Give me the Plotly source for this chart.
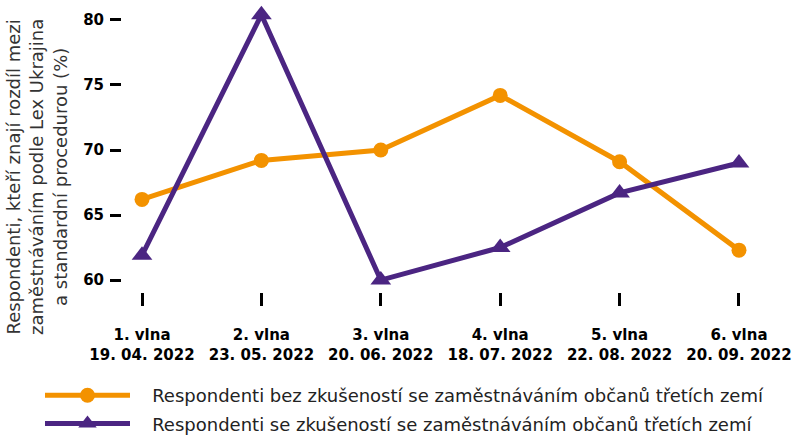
import plotly.graph_objects as go

waves = ["1. vlna", "2. vlna", "3. vlna", "4. vlna", "5. vlna", "6. vlna"]
dates = ["19. 04. 2022", "23. 05. 2022", "20. 06. 2022", "18. 07. 2022", "22. 08. 2022", "20. 09. 2022"]
without_exp = [66.2, 69.2, 70.0, 74.2, 69.1, 62.3]
with_exp = [61.9, 80.4, 60.0, 62.5, 66.7, 69.0]
name_without = "Respondenti bez zkušeností se zaměstnáváním občanů třetích zemí"
name_with = "Respondenti se zkušeností se zaměstnáváním občanů třetích zemí"
y_ticks = [60, 65, 70, 75, 80]

ORANGE = "#F39200"
PURPLE = "#4B2582"
FONT = "DejaVu Sans"
PAD = "\u00a0" * 3

x = list(range(len(waves)))
ticktext = [f"<b>{w}<br>{d}</b>" for w, d in zip(waves, dates)]

fig = go.Figure()
fig.add_trace(go.Scatter(
    x=x, y=without_exp, name=PAD + name_without, mode="lines+markers",
    legendgroup="a",
    line=dict(color=ORANGE, width=5),
    marker=dict(symbol="circle", size=15, color=ORANGE),
))
fig.add_trace(go.Scatter(
    x=x, y=with_exp, name=PAD + name_with, mode="lines+markers",
    legendgroup="b",
    line=dict(color=PURPLE, width=5),
    marker=dict(symbol="triangle-up", size=18, color=PURPLE),
))

W, H = 798, 435
ml, mr, mt, mb = 122, 38, 5, 143
pw = W - ml - mr
ph = H - mt - mb

fig.update_layout(
    width=W, height=H,
    margin=dict(l=ml, r=mr, t=mt, b=mb, autoexpand=False),
    paper_bgcolor="white", plot_bgcolor="white",
    font=dict(family=FONT, color="#1a1a1a"),
    showlegend=True,
    legend=dict(
        orientation="v", xref="container", yref="container",
        x=40 / W, xanchor="left",
        y=1 - 377 / H, yanchor="top",
        font=dict(size=18, color="#222222", family=FONT),
        itemwidth=85, traceorder="grouped", tracegroupgap=2,
        bgcolor="rgba(0,0,0,0)",
    ),
)
fig.update_xaxes(
    range=[-0.1675, 5.176], tickvals=x, ticktext=ticktext,
    showgrid=False, zeroline=False, showline=False, automargin=False,
    ticks="outside", ticklen=13, tickwidth=3, tickcolor="black",
    tickfont=dict(size=15, color="black", family=FONT),
    ticklabelstandoff=16, fixedrange=True,
)
fig.update_yaxes(
    range=[59.08, 81.15], tickvals=y_ticks,
    ticktext=[f"<b>{v}</b>" for v in y_ticks],
    showgrid=False, zeroline=False, showline=False, automargin=False,
    ticks="outside", ticklen=11, tickwidth=3, tickcolor="black",
    tickfont=dict(size=15, color="black", family=FONT),
    ticklabelstandoff=3, fixedrange=True,
)
fig.add_annotation(
    text="Respondenti, kteří znají rozdíl mezi<br>zaměstnáváním podle Lex Ukrajina<br>a standardní procedurou (%)",
    textangle=-90, xref="paper", yref="paper",
    x=(37 - ml) / pw, y=(mt + ph - 177) / ph,
    xanchor="center", yanchor="middle", showarrow=False,
    font=dict(size=18, color="#333333", family=FONT),
)

fig.write_html("out.html", config={"displayModeBar": False},
               post_script="document.body.style.margin='0';")
